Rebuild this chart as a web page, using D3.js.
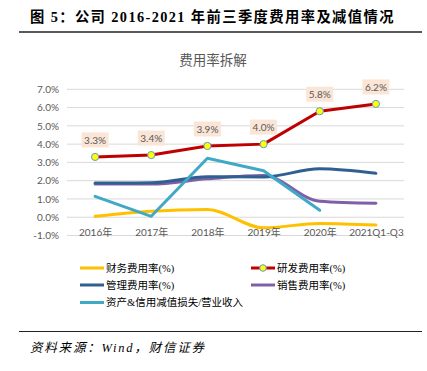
<!DOCTYPE html>
<html><head><meta charset="utf-8">
<script src="https://cdn.jsdelivr.net/npm/d3@7"></script>
<style>body{margin:0;background:#fff}svg{display:block}</style>
</head><body>
<svg id="c" width="427" height="371"></svg>
<script>
const categories = ["2016年","2017年","2018年","2019年","2020年","2021Q1-Q3"];
const finance = [0.05, 0.33, 0.42, -0.58, -0.34, -0.43];
const rnd = [3.3, 3.4, 3.9, 4.0, 5.8, 6.2];
const mgmt = [1.87, 1.88, 2.22, 2.2, 2.65, 2.4];
const sales = [1.82, 1.82, 2.1, 2.28, 0.87, 0.76];
const impair = [1.14, 0.05, 3.23, 2.54, 0.38, null];
const yTicks = [-1,0,1,2,3,4,5,6,7];

const svg = d3.select("#c");
const cjk = "'Noto Sans CJK SC', sans-serif";
const num = "Lato, 'Noto Sans CJK SC', sans-serif";

// header
svg.append("text").attr("x",30).attr("y",22).attr("font-family","'Liberation Serif','Noto Sans CJK SC',serif")
  .attr("font-weight","bold").attr("font-size",14.3).attr("fill","#000").attr("letter-spacing",1.4)
  .text("图 5：公司 2016-2021 年前三季度费用率及减值情况");
svg.append("line").attr("x1",19).attr("x2",422).attr("y1",32).attr("y2",32).attr("stroke","#222").attr("stroke-width",1.5);

svg.append("text").attr("x",213).attr("y",65).attr("text-anchor","middle").attr("font-family",cjk)
  .attr("font-size",13.5).attr("fill","#595959").text("费用率拆解");

const x = d3.scalePoint().domain(categories).range([67,404]).padding(0.5);
const y = d3.scaleLinear().domain([-1,7]).range([235.5,89.3]);

const g = svg.append("g");
g.selectAll(".grid").data(yTicks).join("line")
  .attr("x1",67).attr("x2",404).attr("y1",d=>y(d)).attr("y2",d=>y(d))
  .attr("stroke","#d9d9d9").attr("stroke-width",1);

const yAxis = d3.axisLeft(y).tickValues(yTicks).tickFormat(d=>d.toFixed(1)+"%").tickSize(0).tickPadding(0);
const ya = svg.append("g").attr("transform","translate(59,0)").call(yAxis);
ya.select(".domain").remove();
ya.selectAll("text").attr("font-family",num).attr("font-size",10).attr("fill","#595959");

const xAxis = d3.axisBottom(x).tickSize(0).tickPadding(0);
const xa = svg.append("g").attr("transform","translate(0,229)").call(xAxis);
xa.select(".domain").remove();
xa.selectAll("text").attr("font-family",num).attr("font-size",10).attr("fill","#595959");

function draw(data, color, curve){
  const line = d3.line().defined(d=>d!=null).x((d,i)=>x(categories[i])).y(d=>y(d)).curve(curve);
  g.append("path").datum(data).attr("d",line).attr("fill","none").attr("stroke",color)
    .attr("stroke-width",3).attr("stroke-linejoin","round").attr("stroke-linecap","round");
}
draw(finance,"#FFC000",d3.curveMonotoneX);
draw(sales,"#7F60A8",d3.curveMonotoneX);
draw(mgmt,"#305F91",d3.curveMonotoneX);
draw(impair,"#3FA9C6",d3.curveLinear);
draw(rnd,"#C00000",d3.curveLinear);

g.selectAll(".m").data(rnd).join("circle")
  .attr("cx",(d,i)=>x(categories[i])).attr("cy",d=>y(d)).attr("r",3.6)
  .attr("fill","#FFFF00").attr("stroke","#5B9BD5").attr("stroke-width",1);

const lab = g.selectAll(".lab").data(rnd).join("g")
  .attr("transform",(d,i)=>`translate(${x(categories[i])},${y(d)-16.5})`);
lab.append("rect").attr("x",-13.5).attr("y",-8).attr("width",27).attr("height",15).attr("fill","#FBE5D6");
lab.append("text").attr("text-anchor","middle").attr("dy","0.35em").attr("font-family",num)
  .attr("font-size",10).attr("fill","#595959").text(d=>d.toFixed(1)+"%");

// legend
const legend = [
  {name:"财务费用率(%)", color:"#FFC000", x:80, y:268, marker:false},
  {name:"研发费用率(%)", color:"#C00000", x:251, y:268, marker:true},
  {name:"管理费用率(%)", color:"#305F91", x:80, y:285, marker:false},
  {name:"销售费用率(%)", color:"#7F60A8", x:251, y:285, marker:false},
  {name:"资产&信用减值损失/营业收入", color:"#3FA9C6", x:80, y:302.5, marker:false}
];
const lg = svg.selectAll(".lg").data(legend).join("g").attr("transform",d=>`translate(${d.x},${d.y})`);
lg.append("line").attr("x1",0).attr("x2",24).attr("stroke",d=>d.color).attr("stroke-width",3);
lg.filter(d=>d.marker).append("circle").attr("cx",12).attr("r",3.3).attr("fill","#FFFF00").attr("stroke","#5B9BD5").attr("stroke-width",1);
lg.append("text").attr("x",26).attr("dy","0.35em").attr("font-family","'Liberation Serif','Noto Sans CJK SC',serif")
  .attr("font-size",10.5).attr("fill","#000").text(d=>d.name);

svg.append("line").attr("x1",19).attr("x2",422).attr("y1",331.5).attr("y2",331.5).attr("stroke","#222").attr("stroke-width",1);
svg.append("text").attr("x",30).attr("y",352).attr("font-family","'Liberation Serif','Noto Sans CJK SC',serif")
  .attr("font-style","italic").attr("font-size",12.5).attr("letter-spacing",1.8).attr("fill","#000").text("资料来源：Wind，财信证券");
</script>
</body></html>
